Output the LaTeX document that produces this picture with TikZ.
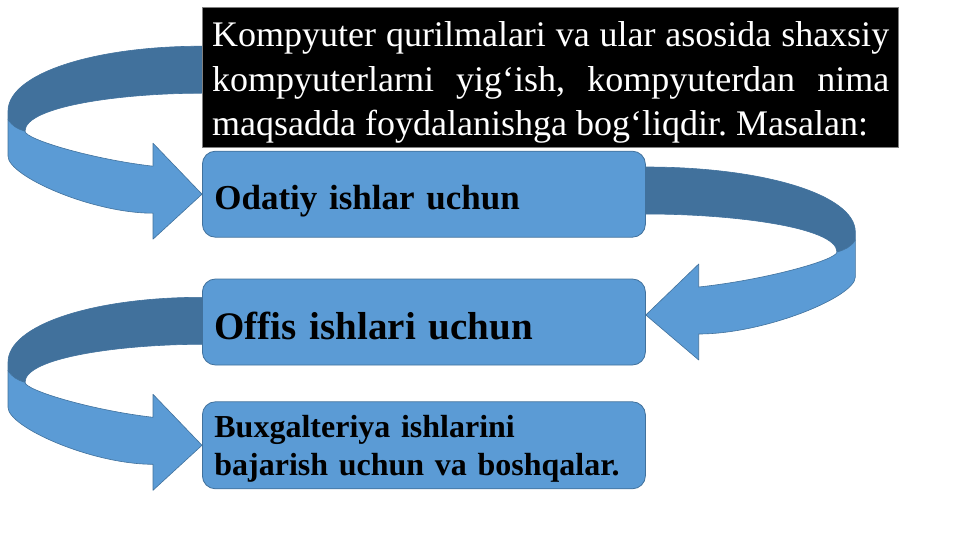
\documentclass[tikz,border=0pt]{standalone}
\usepackage{fontspec}
\setmainfont{Liberation Serif}
\usetikzlibrary{positioning,backgrounds}
\frenchspacing

\definecolor{boxblue}{HTML}{5B9BD5}
\definecolor{edgeblue}{HTML}{41719C}
\definecolor{bandblue}{HTML}{41719C}

\tikzset{
  stagebox/.style={rectangle, rounded corners=13pt, fill=boxblue, draw=edgeblue,
    line width=0.8pt, text width=419pt, inner xsep=12pt, inner ysep=4pt, align=left},
  backband/.style={fill=bandblue, draw=bandblue, line width=0.6pt},
  frontband/.style={fill=boxblue, draw=edgeblue, line width=0.6pt, line join=round},
  pics/turnarrow/.style={code={
    % back part of the ribbon
    \path[backband] (12,-148) -- (0,-148) .. controls (-110,-148) and (-194,-120) .. (-194,-83)
      -- (-194,-75) .. controls (-190,-68) and (-184,-65) .. (-177,-63)
      .. controls (-177,-88) and (-80,-101) .. (0,-101) -- (12,-101) -- cycle;
    % front part with the head
    \path[frontband] (-194,-75) -- (-194,-38) .. controls (-194,-18) and (-110,19) .. (-49,19)
      -- (-49,45) -- (0,0) -- (-49,-51) -- (-49,-28)
      .. controls (-110,-35) and (-177,-55) .. (-177,-63)
      .. controls (-184,-65) and (-190,-68) .. (-194,-75) -- cycle;
  }}
}

\begin{document}
\begin{tikzpicture}[x=1pt, y=-1pt]
  \useasboundingbox (0,0) rectangle (961,540);

  \node[fill=black, draw=gray, line width=0.8pt, minimum width=696pt, minimum height=140pt,
    anchor=north west, inner sep=0] (intro) at (202,7) {};
  \node[text=white, text width=677pt, align=justify, anchor=base west, inner sep=0,
    font=\fontsize{36}{44.5}\selectfont] (introtext) at (212,47)
    {Kompyuter qurilmalari va ular asosida shaxsiy\linebreak
     kompyuterlarni yig‘ish, kompyuterdan nima\linebreak
     maqsadda foydalanishga bog‘liqdir. Masalan:};

  \node[stagebox, below=3pt of intro.south west, anchor=north west, minimum height=86pt,
    text height=30pt, text depth=0pt, font=\fontsize{35}{42}\selectfont\bfseries]
    (odatiy) {Odatiy ishlar uchun};
  \node[stagebox, below=41pt of odatiy, minimum height=86pt,
    text height=34pt, text depth=0pt, font=\fontsize{39}{47}\selectfont\bfseries]
    (offis) {Offis ishlari uchun};
  \node[stagebox, below=36pt of offis, minimum height=87pt,
    text height=30pt, text depth=45pt, font=\fontsize{32}{38}\selectfont\bfseries]
    (buxgalteriya) {Buxgalteriya ishlarini\\ bajarish uchun va boshqalar.};

  \begin{scope}[on background layer]
    \pic at (odatiy.west) {turnarrow};
    \pic[xscale=-1.08] at ([yshift=7pt]offis.east) {turnarrow};
    \pic at (buxgalteriya.west) {turnarrow};
  \end{scope}
\end{tikzpicture}
\end{document}
